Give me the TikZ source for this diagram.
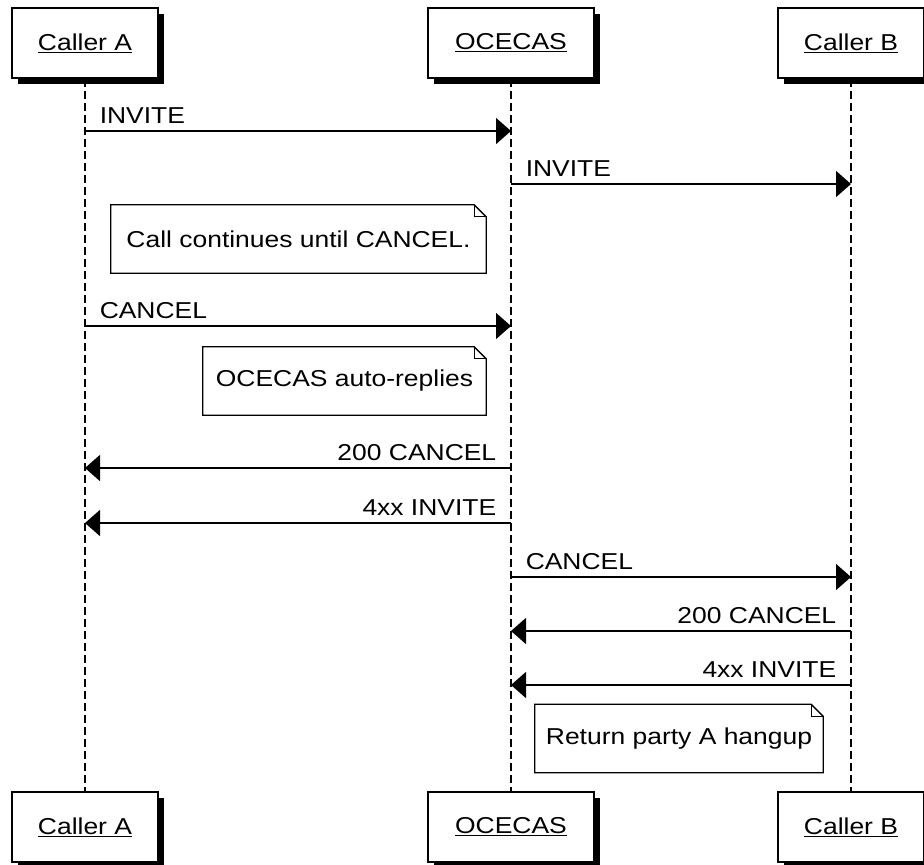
\documentclass[tikz,border=0pt]{standalone}
\usepackage{fontspec}
\setmainfont[FakeStretch=1.15]{Liberation Sans}
\usetikzlibrary{arrows.meta,shadows}

% note with a folded top-right corner: name, centre x, centre y, width, text
\newcommand\dognote[5]{%
  \node[notebox, minimum width=#4] (#1) at (#2,#3) {#5};
  \draw[noteline] (#1.north west) -- ([xshift=-12pt]#1.north east)
    -- ([yshift=-12pt]#1.north east) -- (#1.south east) -- (#1.south west) -- cycle;
  \draw[noteline] ([xshift=-12pt]#1.north east) |- ([yshift=-12pt]#1.north east);
}

\begin{document}
\begin{tikzpicture}[x=1pt,y=1pt,
  every node/.style={font=\fontsize{23}{27}\selectfont, text=black},
  actor/.style={draw, line width=1.6pt, fill=white, minimum height=70pt,
    inner sep=0pt,
    drop shadow={shadow xshift=6pt, shadow yshift=-6pt, fill=black, opacity=1}},
  lifeline/.style={line width=1.2pt, dash pattern=on 8pt off 4pt},
  msg/.style={line width=1.5pt, -{Triangle[length=15pt,width=26pt]}},
  rlabel/.style={pos=0, anchor=base west, xshift=14pt, yshift=7.5pt, inner sep=0pt},
  llabel/.style={pos=0, anchor=base east, xshift=-14pt, yshift=7.5pt, inner sep=0pt},
  notebox/.style={minimum height=68pt, inner sep=0pt, fill=white},
  noteline/.style={line width=1.3pt, line join=miter},
]
\useasboundingbox (0,0) rectangle (924,-865);

% participants, top and bottom
\node[actor, minimum width=146pt] (topA) at (85,-43)  {\underline{Caller A}};
\node[actor, minimum width=166pt] (topO) at (511,-43) {\underline{OCECAS}};
\node[actor, minimum width=146pt] (topB) at (851,-43) {\underline{Caller B}};
\node[actor, minimum width=146pt] (botA) at (85,-827)  {\underline{Caller A}};
\node[actor, minimum width=166pt] (botO) at (511,-827) {\underline{OCECAS}};
\node[actor, minimum width=146pt] (botB) at (851,-827) {\underline{Caller B}};

% lifelines
\draw[lifeline] (topA.south) -- (botA.north);
\draw[lifeline] (topO.south) -- (botO.north);
\draw[lifeline] (topB.south) -- (botB.north);

% message rows
\coordinate (r1) at (0,-131);
\coordinate (r2) at (0,-184);
\coordinate (r3) at (0,-326);
\coordinate (r4) at (0,-468);
\coordinate (r5) at (0,-523);
\coordinate (r6) at (0,-577);
\coordinate (r7) at (0,-631);
\coordinate (r8) at (0,-685);

\draw[msg] (topA |- r1) -- (topO |- r1) node[rlabel] {INVITE};
\draw[msg] (topO |- r2) -- (topB |- r2) node[rlabel] {INVITE};

\dognote{n1}{298.5}{-239}{375pt}{Call continues until CANCEL.}

\draw[msg] (topA |- r3) -- (topO |- r3) node[rlabel] {CANCEL};

\dognote{n2}{344.5}{-381}{283pt}{OCECAS auto-replies}

\draw[msg] (topO |- r4) -- (topA |- r4) node[llabel] {200 CANCEL};
\draw[msg] (topO |- r5) -- (topA |- r5) node[llabel] {4xx INVITE};
\draw[msg] (topO |- r6) -- (topB |- r6) node[rlabel] {CANCEL};
\draw[msg] (topB |- r7) -- (topO |- r7) node[llabel] {200 CANCEL};
\draw[msg] (topB |- r8) -- (topO |- r8) node[llabel] {4xx INVITE};

\dognote{n3}{679}{-738.5}{288pt}{Return party A hangup}
\end{tikzpicture}
\end{document}
